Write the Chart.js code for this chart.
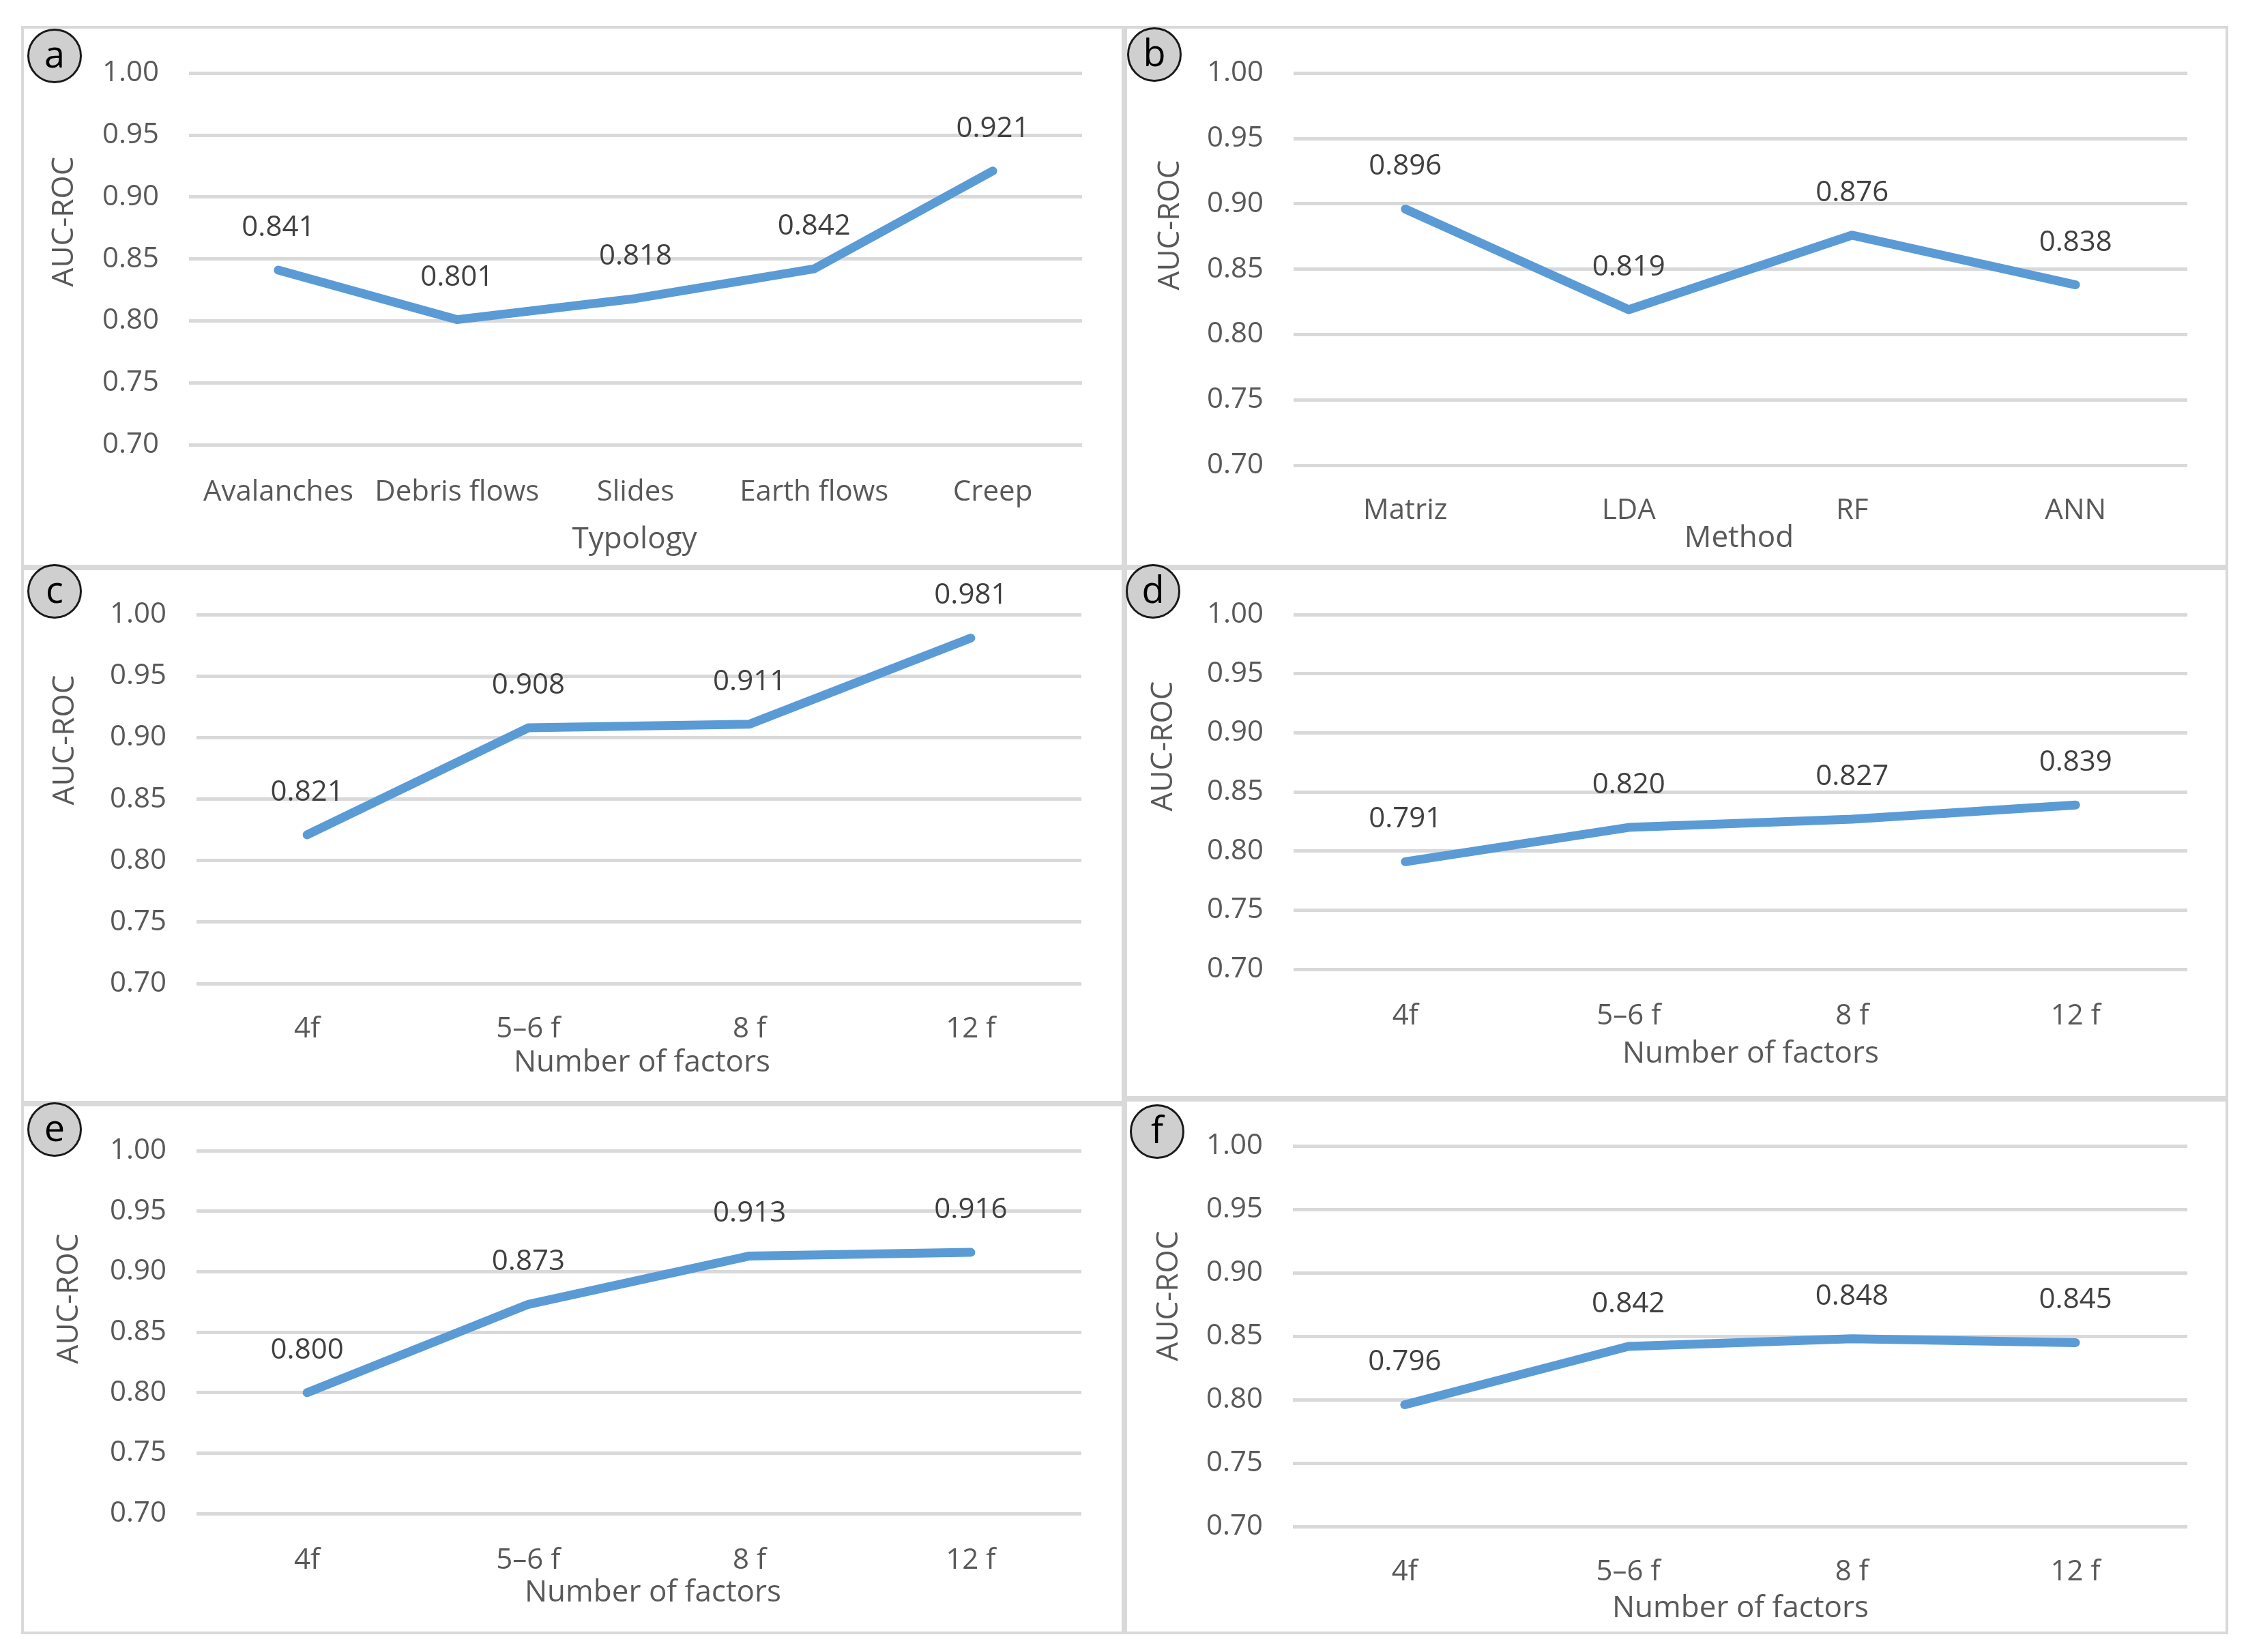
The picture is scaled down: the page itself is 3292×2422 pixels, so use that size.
<!DOCTYPE html>
<html>
<head>
<meta charset="utf-8">
<script src="https://cdn.jsdelivr.net/npm/chart.js@4.4.1/dist/chart.umd.min.js"></script>
<style>
  html, body { margin: 0; padding: 0; background: #fff; }
  #page { position: relative; width: 3292px; height: 2422px; background: #fff; overflow: hidden; }
  .panel { position: absolute; }
  .panel canvas { position: absolute; left: 0; top: 0; }
  .frame { position: absolute; left: 0; top: 0; right: 0; bottom: 0; border: 4px solid #d9d9d9; box-sizing: border-box; pointer-events: none; }
  .tag { position: absolute; width: 74px; height: 74px; border-radius: 50%; background: #cfcfcf; border: 3px solid #1a1a1a;
         font: 54px 'Open Sans', sans-serif; color: #000; display: flex; align-items: center; justify-content: center; }
  .tag span { position: relative; top: -4px; }
</style>
</head>
<body>
<div id="page"></div>
<script>
// categories
const typology = ['Avalanches', 'Debris flows', 'Slides', 'Earth flows', 'Creep'];
const methods = ['Matriz', 'LDA', 'RF', 'ANN'];
const factors = ['4f', '5–6 f', '8 f', '12 f'];

// AUC-ROC values per panel
const aucTypology = [0.841, 0.801, 0.818, 0.842, 0.921];
const aucMethod = [0.896, 0.819, 0.876, 0.838];
const aucFactorsC = [0.821, 0.908, 0.911, 0.981];
const aucFactorsD = [0.791, 0.820, 0.827, 0.839];
const aucFactorsE = [0.800, 0.873, 0.913, 0.916];
const aucFactorsF = [0.796, 0.842, 0.848, 0.845];

// y axis
const yMin = 0.70, yMax = 1.00, yStep = 0.05;

const yTitle = 'AUC-ROC';

// page geometry, full pixel coords: box, plot area [l,t,r,b], tick label y, title spots, tag centre
const panels = [
  { tag: 'a', labels: typology, values: aucTypology, xTitle: 'Typology',
    box: [31, 38, 1648, 832], plot: [277, 101, 1586, 652], tickY: 714, xAt: [930, 791], yAt: [94, 325], tagAt: [80, 82] },
  { tag: 'b', labels: methods, values: aucMethod, xTitle: 'Method',
    box: [1648, 38, 3266, 832], plot: [1896, 100, 3206, 682], tickY: 741, xAt: [2549, 789], yAt: [1715, 330], tagAt: [1692, 80] },
  { tag: 'c', labels: factors, values: aucFactorsC, xTitle: 'Number of factors',
    box: [31, 832, 1648, 1618], plot: [288, 897, 1585, 1442], tickY: 1501, xAt: [941, 1558], yAt: [95, 1085], tagAt: [80, 867] },
  { tag: 'd', labels: factors, values: aucFactorsD, xTitle: 'Number of factors',
    box: [1648, 832, 3266, 1611], plot: [1896, 894, 3206, 1421], tickY: 1482, xAt: [2566, 1545], yAt: [1705, 1094], tagAt: [1690, 867] },
  { tag: 'e', labels: factors, values: aucFactorsE, xTitle: 'Number of factors',
    box: [31, 1618, 1648, 2396], plot: [288, 1680, 1585, 2219], tickY: 2280, xAt: [957, 2335], yAt: [101, 1904], tagAt: [80, 1656] },
  { tag: 'f', labels: factors, values: aucFactorsF, xTitle: 'Number of factors',
    box: [1648, 1611, 3266, 2396], plot: [1895, 1675, 3206, 2238], tickY: 2297, xAt: [2551, 2358], yAt: [1713, 1900], tagAt: [1696, 1659] }
];

Chart.defaults.font.family = "'Open Sans', sans-serif";
Chart.defaults.color = '#595959';

const TICK_FONT = 42;
const LINE_H = 1.2;

// value labels above points + axis titles
const panelText = {
  id: 'panelText',
  afterDatasetsDraw(chart, args, opts) {
    const ctx = chart.ctx;
    ctx.save();
    ctx.textAlign = 'center';
    ctx.textBaseline = 'middle';
    ctx.fillStyle = '#404040';
    ctx.font = "42px 'Open Sans', sans-serif";
    const meta = chart.getDatasetMeta(0);
    const vals = chart.data.datasets[0].data;
    meta.data.forEach((pt, i) => {
      ctx.fillText(vals[i].toFixed(3), pt.x, pt.y - 62);
    });
    ctx.fillStyle = '#595959';
    ctx.font = "44px 'Open Sans', sans-serif";
    ctx.fillText(opts.xTitle, opts.xAt[0], opts.xAt[1]);
    ctx.translate(opts.yAt[0], opts.yAt[1]);
    ctx.rotate(-Math.PI / 2);
    ctx.fillText(yTitle, 0, 0);
    ctx.restore();
  }
};

const page = document.getElementById('page');

panels.forEach(p => {
  const [bl, bt, br, bb] = p.box;
  const w = br - bl, h = bb - bt;
  const [pl, pt, pr, pb] = p.plot;

  const wrap = document.createElement('div');
  wrap.className = 'panel';
  wrap.style.left = bl + 'px';
  wrap.style.top = bt + 'px';
  wrap.style.width = w + 'px';
  wrap.style.height = h + 'px';
  const cv = document.createElement('canvas');
  cv.width = w;
  cv.height = h;
  cv.style.width = w + 'px';
  cv.style.height = h + 'px';
  wrap.appendChild(cv);
  const frame = document.createElement('div');
  frame.className = 'frame';
  wrap.appendChild(frame);
  page.appendChild(wrap);

  const tag = document.createElement('div');
  tag.className = 'tag';
  tag.style.left = (p.tagAt[0] - 40) + 'px';
  tag.style.top = (p.tagAt[1] - 40) + 'px';
  tag.innerHTML = '<span>' + p.tag + '</span>';
  page.appendChild(tag);

  const leftW = pl - bl;
  const bottomH = bb - pb;
  const tickPad = p.tickY - pb - TICK_FONT * LINE_H / 2;

  new Chart(cv, {
    type: 'line',
    data: {
      labels: p.labels,
      datasets: [{
        data: p.values,
        borderColor: '#5b9bd5',
        borderWidth: 13,
        borderCapStyle: 'round',
        borderJoinStyle: 'round',
        pointRadius: 0,
        pointHoverRadius: 0,
        tension: 0,
        fill: false,
        clip: false
      }]
    },
    options: {
      responsive: false,
      devicePixelRatio: 1,
      animation: false,
      events: [],
      layout: { padding: { left: 0, top: pt - bt, right: br - pr, bottom: 0 } },
      plugins: {
        legend: { display: false },
        tooltip: { enabled: false },
        panelText: { xTitle: p.xTitle, xAt: [p.xAt[0] - bl, p.xAt[1] - bt], yAt: [p.yAt[0] - bl, p.yAt[1] - bt] }
      },
      scales: {
        x: {
          type: 'category',
          offset: true,
          grid: { display: false },
          border: { display: false },
          ticks: { color: '#595959', font: { size: TICK_FONT }, padding: tickPad, maxRotation: 0, autoSkip: false },
          afterFit(scale) { scale.height = bottomH; }
        },
        y: {
          min: yMin,
          max: yMax,
          grid: { color: '#d9d9d9', lineWidth: 5, drawTicks: false },
          border: { display: false },
          ticks: {
            stepSize: yStep,
            color: '#595959',
            font: { size: TICK_FONT },
            padding: 44,
            callback: v => Number(v).toFixed(2)
          },
          afterFit(scale) { scale.width = leftW; }
        }
      }
    },
    plugins: [panelText]
  });
});
</script>
</body>
</html>
